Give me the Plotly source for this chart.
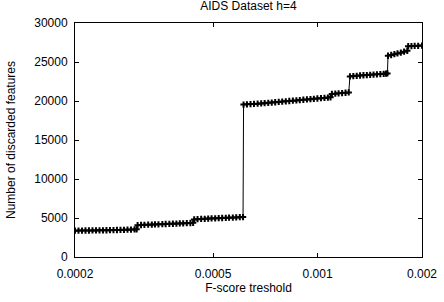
import plotly.graph_objects as go

# F-score thresholds (x) and number of discarded features (y)
thr_a = [0.000200, 0.0002047, 0.0002095, 0.0002144, 0.0002194, 0.0002246, 0.0002299,
         0.0002353, 0.0002408, 0.0002464, 0.0002522, 0.0002582, 0.0002642, 0.0002704,
         0.0002768, 0.0002833, 0.0002900, 0.0002968, 0.0003010]
cnt_a = [3380, 3385, 3390, 3395, 3400, 3405, 3410, 3415, 3420, 3430, 3440, 3450,
         3460, 3470, 3480, 3500, 3515, 3530, 3550]

thr_b = [0.000303, 0.000310, 0.000317, 0.000325, 0.000333, 0.000340, 0.000348,
         0.000357, 0.000365, 0.000374, 0.000383, 0.000392, 0.000401, 0.000410,
         0.000420, 0.000430, 0.000438]
cnt_b = [4080, 4100, 4120, 4140, 4160, 4175, 4190, 4210, 4230, 4250, 4265, 4280,
         4300, 4320, 4340, 4360, 4380]

thr_c = [0.000441, 0.000451, 0.000462, 0.000473, 0.000484, 0.000495, 0.000507,
         0.000519, 0.000531, 0.000544, 0.000556, 0.000570, 0.000583, 0.000597, 0.000610]
cnt_c = [4820, 4850, 4880, 4900, 4920, 4940, 4960, 4980, 5000, 5020, 5040, 5060,
         5080, 5100, 5120]

thr_d = [0.000612, 0.000626, 0.000641, 0.000656, 0.000672, 0.000688, 0.000704,
         0.000721, 0.000738, 0.000755, 0.000773, 0.000791, 0.000810, 0.000829,
         0.000849, 0.000869, 0.000889, 0.000910, 0.000932, 0.000954, 0.000976,
         0.000999, 0.001023, 0.001047, 0.001071, 0.001090]
cnt_d = [19540, 19570, 19600, 19630, 19660, 19690, 19720, 19760, 19800, 19840,
         19880, 19920, 19960, 20000, 20040, 20080, 20120, 20160, 20200, 20240,
         20280, 20320, 20360, 20400, 20440, 20480]

thr_e = [0.001100, 0.001125, 0.001150, 0.001177, 0.001204, 0.001230]
cnt_e = [20900, 20940, 20980, 21020, 21060, 21100]

thr_f = [0.001240, 0.001268, 0.001297, 0.001326, 0.001356, 0.001387, 0.001418,
         0.001450, 0.001483, 0.001517, 0.001551, 0.001575, 0.001590]
cnt_f = [23150, 23190, 23230, 23270, 23300, 23330, 23360, 23390, 23420, 23450,
         23480, 23510, 23540]

thr_g = [0.001596, 0.001630, 0.001665, 0.001700, 0.001738, 0.001776, 0.001814]
cnt_g = [25800, 25900, 26000, 26100, 26200, 26320, 26440]

thr_h = [0.001825, 0.001865, 0.001905, 0.001950, 0.002000]
cnt_h = [27020, 27040, 27060, 27080, 27100]

x_ticks = [0.0002, 0.0005, 0.001, 0.002]
x_tick_text = ["0.0002", "0.0005", "0.001", "0.002"]
y_ticks = [0, 5000, 10000, 15000, 20000, 25000, 30000]
y_tick_text = ["0", "5000", "10000", "15000", "20000", "25000", "30000"]

thresholds = thr_a + thr_b + thr_c + thr_d + thr_e + thr_f + thr_g + thr_h
discarded = cnt_a + cnt_b + cnt_c + cnt_d + cnt_e + cnt_f + cnt_g + cnt_h

FONT = "Liberation Sans, Arial, Helvetica, sans-serif"

fig = go.Figure()
fig.add_trace(go.Scatter(
    x=thresholds, y=discarded, mode="lines+markers",
    line=dict(color="black", width=1),
    marker=dict(symbol="cross-thin", size=4.5, color="black",
                line=dict(color="black", width=2)),
    showlegend=False,
))

axis_common = dict(
    showline=True, linecolor="black", linewidth=1, mirror="ticks",
    ticks="inside", ticklen=4, tickcolor="black", tickwidth=1,
    showgrid=False, zeroline=False, automargin=False,
    tickfont=dict(family=FONT, size=12, color="black"),
)

fig.update_layout(
    width=444, height=302,
    margin=dict(l=75, r=22, t=23, b=45),
    paper_bgcolor="white", plot_bgcolor="white",
    font=dict(family=FONT, size=12, color="black"),
    title=dict(text="AIDS Dataset h=4", x=0.5595, xanchor="center",
               y=0.982, yanchor="middle", yref="container",
               font=dict(family=FONT, size=12, color="black")),
    xaxis=dict(type="log", range=[-3.69897, -2.69897],
               tickvals=x_ticks, ticktext=x_tick_text,
               ticklabelstandoff=6,
               title=dict(text="F-score treshold", standoff=3,
                          font=dict(family=FONT, size=12, color="black")),
               **axis_common),
    yaxis=dict(range=[0, 30000], tickvals=y_ticks, ticktext=y_tick_text,
               ticklabelstandoff=4,
               title=dict(text="Number of discarded features", standoff=16,
                          font=dict(family=FONT, size=12, color="black")),
               **axis_common),
)

fig.write_html("out.html")
